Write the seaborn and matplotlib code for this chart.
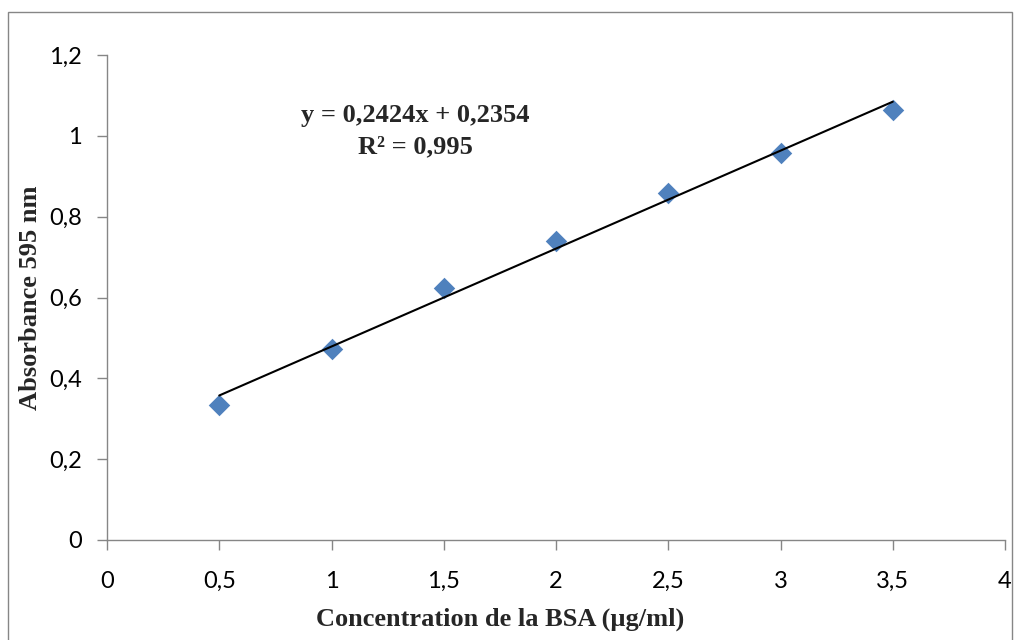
"""
BSA calibration curve (Bradford assay) - absorbance at 595 nm.
"""

import numpy as np
import pandas as pd
import matplotlib.pyplot as plt
import seaborn as sns
from matplotlib.patches import Rectangle

# Data
concentration = [0.5, 1.0, 1.5, 2.0, 2.5, 3.0, 3.5]
absorbance = [0.334, 0.472, 0.623, 0.740, 0.858, 0.957, 1.063]
x_ticks = [0, 0.5, 1, 1.5, 2, 2.5, 3, 3.5, 4]
y_ticks = [0, 0.2, 0.4, 0.6, 0.8, 1.0, 1.2]
equation_text = "y = 0,2424x + 0,2354\nR² = 0,995"

df = pd.DataFrame({'conc': concentration, 'abs': absorbance})

sns.set_style("white")
plt.rcParams['font.family'] = ['Lato', 'DejaVu Sans']

fig = plt.figure(figsize=(10.15, 6.4), dpi=100)
W, H = 1015, 640
ax = fig.add_axes([107 / W, 1 - 540 / H, (1005 - 107) / W, (540 - 55) / H])

# Outer chart border (Excel chart area)
fig.patches.append(Rectangle((8 / W, -0.05), (1012 - 8) / W, 1 - 12 / H + 0.05,
                             transform=fig.transFigure, fill=False,
                             edgecolor='#868686', linewidth=1.0))

# Points and linear trendline
sns.scatterplot(data=df, x='conc', y='abs', marker='D', s=120,
                color='#4F81BD', edgecolor='#4F81BD', linewidth=0, ax=ax, zorder=2)
sns.regplot(data=df, x='conc', y='abs', scatter=False, ci=None, ax=ax,
            line_kws={'color': 'black', 'linewidth': 1.5, 'zorder': 3})

ax.set_xlim(0, 4)
ax.set_ylim(0, 1.2)
ax.set_xticks(x_ticks)
ax.set_yticks(y_ticks)
fmt = lambda v: f"{v:g}".replace('.', ',')
ax.set_xticklabels([fmt(v) for v in x_ticks], fontsize=17)
ax.set_yticklabels([fmt(v) for v in y_ticks], fontsize=17)

for side in ['top', 'right']:
    ax.spines[side].set_visible(False)
for side in ['left', 'bottom']:
    ax.spines[side].set_color('#868686')
    ax.spines[side].set_linewidth(1.0)
ax.tick_params(axis='both', which='major', direction='out', length=7,
               width=1.0, color='#868686', labelcolor='black',
               bottom=True, left=True)
ax.tick_params(axis='x', pad=15)
ax.tick_params(axis='y', pad=11)

label_font = dict(family='Liberation Serif', fontweight='bold', fontsize=19)
ax.set_xlabel('Concentration de la BSA (µg/ml)', **label_font)
ax.set_ylabel('Absorbance 595 nm', **label_font)
ax.xaxis.set_label_coords(0.4376, -0.140)
ax.yaxis.set_label_coords(-0.072, 0.5)

ax.text(1.372, 1.011, equation_text, ha='center', va='center', linespacing=1.45,
        **label_font)

plt.savefig('out.png', dpi=100)
plt.close()
